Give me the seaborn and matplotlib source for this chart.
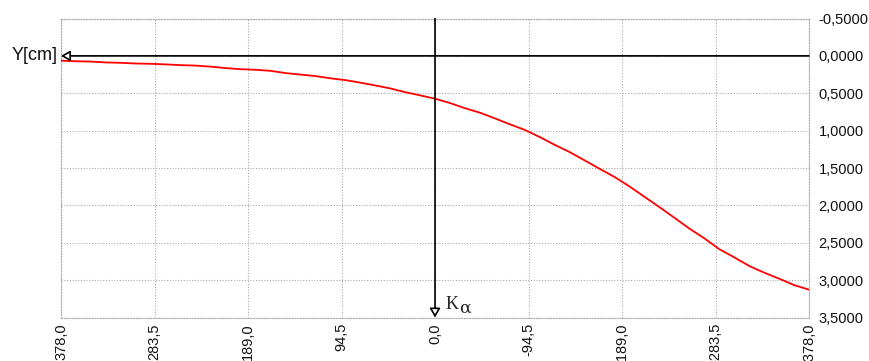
import numpy as np
import pandas as pd
import matplotlib
matplotlib.use("Agg")
import matplotlib.pyplot as plt
import seaborn as sns
from matplotlib.patches import FancyArrowPatch

# Rotation angle positions (stations) and deflection Y [cm]
stations = [378.0 - 15.12 * k for k in range(51)]
deflection = [
    0.064, 0.072, 0.076, 0.088, 0.093, 0.102, 0.106, 0.114, 0.124, 0.130,
    0.144, 0.163, 0.178, 0.186, 0.200, 0.230, 0.250, 0.270, 0.300, 0.324,
    0.358, 0.395, 0.435, 0.485, 0.528, 0.573, 0.631, 0.700, 0.760, 0.836,
    0.915, 0.990, 1.086, 1.190, 1.287, 1.398, 1.510, 1.620, 1.746, 1.885,
    2.023, 2.165, 2.310, 2.440, 2.585, 2.695, 2.810, 2.900, 2.980, 3.066,
    3.128,
]

x_ticks = [378.0, 283.5, 189.0, 94.5, 0.0, -94.5, -189.0, -283.5, -378.0]
x_tick_labels = ["378,0", "283,5", "189,0", "94,5", "0,0", "-94,5", "-189,0", "-283,5", "-378,0"]
y_ticks = [-0.5, 0.0, 0.5, 1.0, 1.5, 2.0, 2.5, 3.0, 3.5]
y_tick_labels = ["-0,5000", "0,0000", "0,5000", "1,0000", "1,5000", "2,0000", "2,5000", "3,0000", "3,5000"]

sns.set_style("white")
plt.rcParams["font.family"] = ["Liberation Sans", "DejaVu Sans"]

W, H = 869, 361
fig = plt.figure(figsize=(W / 100, H / 100), dpi=100)
ax = fig.add_axes([61 / W, 1 - 317.5 / H, (809 - 61) / W, (317.5 - 18.5) / H])

df = pd.DataFrame({"alpha": stations, "Y": deflection})
sns.lineplot(data=df, x="alpha", y="Y", ax=ax, color="#ff0000", linewidth=1.3, zorder=3)

ax.set_xlim(378, -378)
ax.set_ylim(3.5, -0.5)
ax.set_xticks(x_ticks)
ax.set_xticklabels(x_tick_labels, rotation=90, fontsize=10.5, color="#111111")
ax.set_yticks(y_ticks)
ax.set_yticklabels(y_tick_labels, fontsize=10.5, color="#111111")
ax.yaxis.tick_right()
ax.tick_params(axis="both", length=0, pad=4)
ax.tick_params(axis="y", pad=7)
ax.set_xlabel("")
ax.set_ylabel("")

ax.grid(True, color="#aaaaaa", linestyle=(0, (1, 1.5)), linewidth=0.8)
for side in ["top", "bottom", "left", "right"]:
    ax.spines[side].set_visible(True)
    ax.spines[side].set_color("#aaaaaa")
    ax.spines[side].set_linestyle((0, (1, 1.5)))
    ax.spines[side].set_linewidth(0.8)

# Coordinate axes with open arrowheads
arrow_style = "-|>,head_length=4.5,head_width=2.6"
ax.add_patch(FancyArrowPatch((-378, 0.0), (378, 0.0), arrowstyle=arrow_style,
                             mutation_scale=1.2, color="black", fc="white", lw=1.2,
                             shrinkA=0, shrinkB=0, zorder=4, clip_on=False))
ax.add_patch(FancyArrowPatch((0.0, -0.5), (0.0, 3.5), arrowstyle=arrow_style,
                             mutation_scale=1.2, color="black", fc="white", lw=1.2,
                             shrinkA=0, shrinkB=0, zorder=4, clip_on=False))

ax.text(-0.005, 0.0, "Y[cm]", transform=ax.get_yaxis_transform(), ha="right", va="center",
        fontsize=13, color="#111111")
ax.text(-11, 3.33, "K", fontsize=13, family=["Liberation Serif"], ha="left", va="center")
ax.text(-24, 3.37, "α", fontsize=12.5, family=["DejaVu Serif"], ha="left", va="center")

fig.savefig("out.png", dpi=100)
